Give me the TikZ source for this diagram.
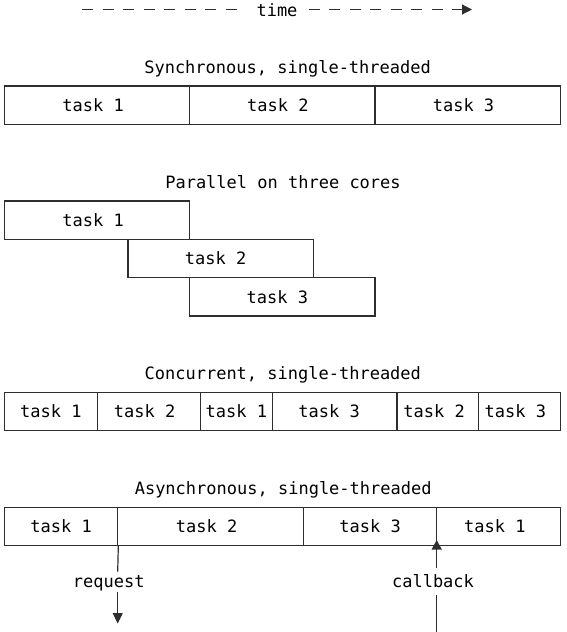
\documentclass[tikz,border=0pt]{standalone}
\usepackage{fontspec}
\setmonofont{DejaVu Sans Mono}
\usetikzlibrary{arrows.meta}
\colorlet{linec}{black!82}
\colorlet{textc}{black}
\tikzset{
  every node/.style={text height=12.5pt, text depth=0pt, inner sep=0pt, text=textc},
  taskbox/.style={draw=linec, line width=1.2pt, minimum height=38.3pt, inner sep=0pt},
  lshift/.style={execute at end node={\hspace*{#1}}},
  lshift/.default=8pt,
  conn/.style={draw=linec, line width=1.2pt},
  dashline/.style={conn, dash pattern=on 11pt off 9.5pt},
  tip/.style={-{Triangle[length=#1,width=10pt]}},
  tip/.default=10pt
}
\begin{document}
\begin{tikzpicture}[x=1pt,y=-1pt,font=\ttfamily\fontsize{17}{20}\selectfont]
\useasboundingbox (0,0) rectangle (567,632);

% time axis
\coordinate (tl0) at (82,9.5);
\coordinate (tl1) at (236.5,9.5);
\coordinate (tr0) at (308.5,9.5);
\coordinate (tr1) at (472,9.5);
\node (time) at (277,10) {time};
\draw[dashline] (tl0) -- (tl1);
\draw[dashline,tip] (tr0) -- (tr1);

% Synchronous
\node (tsync) at (287.6,67) {Synchronous, single-threaded};
\node[taskbox,lshift,minimum width=185.2pt] (s1) at (97.1,105.15) {task 1};
\node[taskbox,lshift=9pt,minimum width=185.2pt] (s2) at (282.3,105.15) {task 2};
\node[taskbox,lshift,minimum width=185.2pt] (s3) at (467.5,105.15) {task 3};

% Parallel
\node (tpar) at (283,182) {Parallel on three cores};
\node[taskbox,lshift,minimum width=185.2pt] (p1) at (97.1,220.15) {task 1};
\node[taskbox,lshift=10pt,minimum width=185.3pt] (p2) at (220.65,258.45) {task 2};
\node[taskbox,lshift=10pt,minimum width=185.2pt] (p3) at (282.3,296.75) {task 3};

% Concurrent
\node (tcon) at (282.8,373) {Concurrent, single-threaded};
\node[taskbox,minimum width=92.6pt] (c1) at (50.8,411.55) {task 1};
\node[taskbox,lshift,minimum width=103.2pt] (c2) at (148.7,411.55) {task 2};
\node[taskbox,minimum width=72.2pt] (c3) at (236.4,411.55) {task 1};
\node[taskbox,lshift=11.4pt,minimum width=124.5pt] (c4) at (334.75,411.55) {task 3};
\node[taskbox,lshift=7pt,minimum width=81.3pt] (c5) at (437.65,411.55) {task 2};
\node[taskbox,lshift=7.6pt,minimum width=81.8pt] (c6) at (519.2,411.55) {task 3};

% Asynchronous
\node (tasy) at (283.2,488) {Asynchronous, single-threaded};
\node[taskbox,minimum width=113.2pt] (a1) at (61.1,526.45) {task 1};
\node[taskbox,lshift,minimum width=185.8pt] (a2) at (210.6,526.45) {task 2};
\node[taskbox,minimum width=133.2pt] (a3) at (370.1,526.45) {task 3};
\node[taskbox,lshift=7pt,minimum width=123.4pt] (a4) at (498.4,526.45) {task 1};

% request
\node (request) at (108.8,581.5) {request};
\coordinate (reqA) at (117.7,571.7);
\coordinate (reqB) at (117.7,591.7);
\coordinate (reqTip) at (117.7,623.5);
\draw[conn] (a1.south east) -- (reqA);
\draw[conn,tip=10.5pt] (reqB) -- (reqTip);

% callback
\node (callback) at (433,581.5) {callback};
\coordinate (cbTip) at (436.7,540);
\coordinate (cbA) at (436.7,568.3);
\coordinate (cbB) at (436.7,595);
\coordinate (cbBot) at (436.7,632);
\draw[conn,tip=9.5pt] (cbA) -- (cbTip);
\draw[conn] (cbB) -- (cbBot);
\end{tikzpicture}
\end{document}
